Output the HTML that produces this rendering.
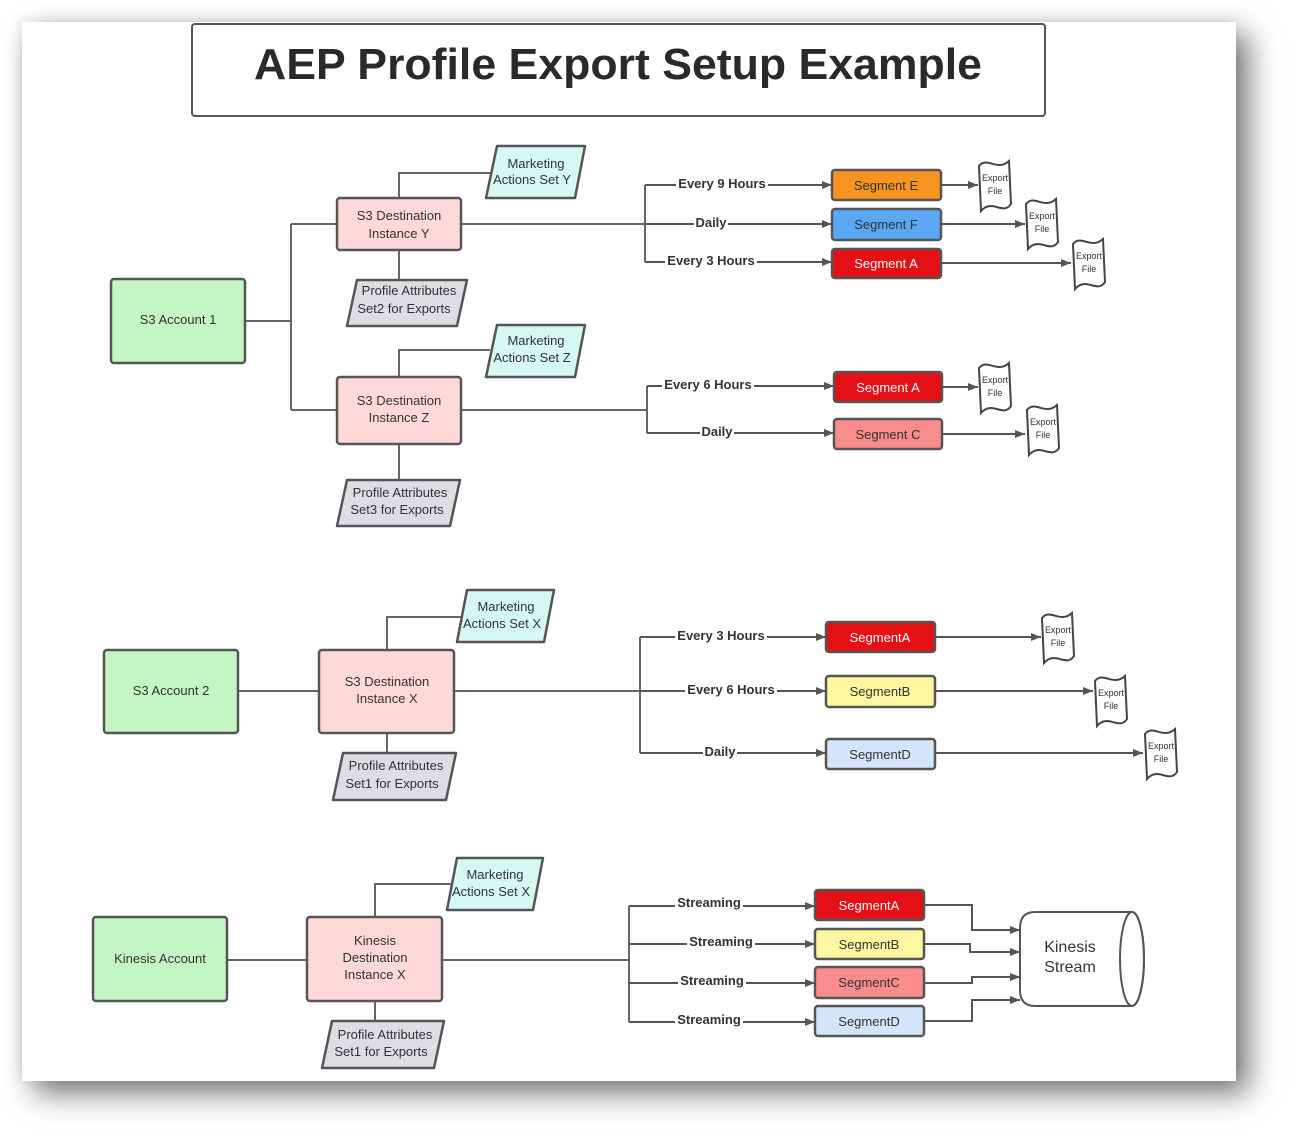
<!DOCTYPE html>
<html><head><meta charset="utf-8"><style>
html,body{margin:0;padding:0;background:#fff;}
body{width:1291px;height:1137px;position:relative;overflow:hidden;}
#card{position:absolute;left:22px;top:22px;width:1214px;height:1059px;background:#fff;box-shadow:12px 12px 28px rgba(0,0,0,0.55), -2px -2px 12px rgba(0,0,0,0.08);}
svg{position:absolute;left:0;top:0;}
text{font-family:"Liberation Sans",sans-serif;fill:#333;}
</style></head><body>
<div id="card"></div>
<svg width="1291" height="1137" viewBox="0 0 1291 1137">
<defs>
<marker id="ah" markerWidth="10" markerHeight="8" refX="10" refY="4" orient="auto" markerUnits="userSpaceOnUse">
<path d="M0,0 L10,4 L0,8 Z" fill="#555"/></marker>
<path id="doc" d="M1,6 C9,-4 19,12 31,1 L33,44 C25,56 14,38 3,51 Z" fill="#fff" stroke="#444" stroke-width="2"/>
</defs>
<g font-family="Liberation Sans">
<!-- Title -->
<rect x="192" y="24" width="853" height="92" rx="3" fill="#fff" stroke="#555" stroke-width="2"/>
<text x="618" y="79" text-anchor="middle" font-size="44" font-weight="bold" textLength="728" lengthAdjust="spacingAndGlyphs" style="fill:#2a2a2a">AEP Profile Export Setup Example</text>

<g fill="none" stroke="#666" stroke-width="2">
<!-- section 1 -->
<path d="M245,321 H291 M291,224 V410 M291,224 H337 M291,410 H337"/>
<path d="M399,198 V173 H490 M399,250 V280"/>
<path d="M399,377 V350 H490 M399,444 V480"/>
<path d="M461,224 H645 M645,185 V262"/>
<path d="M461,410 H647 M647,386 V433"/>
<!-- section 2 -->
<path d="M238,691 H319 M387,650 V617 H463 M387,733 V753"/>
<path d="M454,691 H640 M640,637 V753"/>
<!-- section 3 -->
<path d="M227,960 H307 M375,917 V884 H452 M375,1001 V1021"/>
<path d="M442,960 H629 M629,906 V1022"/>
</g>
<g fill="none" stroke="#555" stroke-width="2" marker-end="url(#ah)">
<path d="M645,185 H832"/><path d="M645,224 H832"/><path d="M645,262 H832"/>
<path d="M941,185 H978"/><path d="M941,224 H1025"/><path d="M941,263 H1071"/>
<path d="M647,386 H834"/><path d="M647,433 H834"/>
<path d="M942,387 H978"/><path d="M942,434 H1025"/>
<path d="M640,637 H826"/><path d="M640,691 H826"/><path d="M640,753 H826"/>
<path d="M935,637 H1041"/><path d="M935,691 H1093"/><path d="M935,753 H1143"/>
<path d="M629,906 H815"/><path d="M629,944 H815"/><path d="M629,983 H815"/><path d="M629,1022 H815"/>
<path d="M924,905 H972 V930 H1020"/><path d="M924,944 H970 V952 H1020"/>
<path d="M924,983 H972 V977 H1020"/><path d="M924,1021 H972 V1000 H1020"/>
</g>

<!-- connector labels -->
<g font-size="13" font-weight="bold" text-anchor="middle">
<rect x="676" y="177" width="92" height="14" fill="#fff"/><text x="722" y="188">Every 9 Hours</text>
<rect x="694" y="216" width="34" height="14" fill="#fff"/><text x="711" y="227">Daily</text>
<rect x="665" y="254" width="92" height="14" fill="#fff"/><text x="711" y="265">Every 3 Hours</text>
<rect x="662" y="378" width="92" height="14" fill="#fff"/><text x="708" y="389">Every 6 Hours</text>
<rect x="700" y="425" width="34" height="14" fill="#fff"/><text x="717" y="436">Daily</text>
<rect x="675" y="629" width="92" height="14" fill="#fff"/><text x="721" y="640">Every 3 Hours</text>
<rect x="685" y="683" width="92" height="14" fill="#fff"/><text x="731" y="694">Every 6 Hours</text>
<rect x="703" y="745" width="34" height="14" fill="#fff"/><text x="720" y="756">Daily</text>
<rect x="675" y="896" width="68" height="14" fill="#fff"/><text x="709" y="907">Streaming</text>
<rect x="687" y="935" width="68" height="14" fill="#fff"/><text x="721" y="946">Streaming</text>
<rect x="678" y="974" width="68" height="14" fill="#fff"/><text x="712" y="985">Streaming</text>
<rect x="675" y="1013" width="68" height="14" fill="#fff"/><text x="709" y="1024">Streaming</text>
</g>

<!-- accounts -->
<g stroke="#555" stroke-width="2.5">
<rect x="111" y="279" width="134" height="84" rx="3" fill="#c4f5c4"/>
<rect x="104" y="650" width="134" height="83" rx="3" fill="#c4f5c4"/>
<rect x="93" y="917" width="134" height="84" rx="3" fill="#c4f5c4"/>
<rect x="337" y="198" width="124" height="52" rx="3" fill="#ffd8d8"/>
<rect x="337" y="377" width="124" height="67" rx="3" fill="#ffd8d8"/>
<rect x="319" y="650" width="135" height="83" rx="3" fill="#ffd8d8"/>
<rect x="307" y="917" width="135" height="84" rx="3" fill="#ffd8d8"/>
<!-- parallelograms -->
<path d="M497,146 H585 L575,198 H486 Z" fill="#d6f8f3" stroke-linejoin="round"/>
<path d="M497,325 H585 L575,377 H486 Z" fill="#d6f8f3" stroke-linejoin="round"/>
<path d="M467,590 H554 L544,642 H457 Z" fill="#d6f8f3" stroke-linejoin="round"/>
<path d="M457,858 H543 L533,910 H447 Z" fill="#d6f8f3" stroke-linejoin="round"/>
<path d="M357,280 H467 L457,326 H347 Z" fill="#dcdee3" stroke-linejoin="round"/>
<path d="M347,480 H460 L450,526 H337 Z" fill="#dcdee3" stroke-linejoin="round"/>
<path d="M343,753 H456 L446,800 H333 Z" fill="#dcdee3" stroke-linejoin="round"/>
<path d="M332,1021 H444 L434,1068 H322 Z" fill="#dcdee3" stroke-linejoin="round"/>
<!-- segments -->
<rect x="832" y="170" width="109" height="30" rx="3" fill="#f7941f"/>
<rect x="832" y="209" width="109" height="31" rx="3" fill="#5aa8f5"/>
<rect x="832" y="249" width="109" height="29" rx="3" fill="#e51016"/>
<rect x="834" y="372" width="108" height="30" rx="3" fill="#e51016"/>
<rect x="834" y="419" width="108" height="30" rx="3" fill="#fa8c8c"/>
<rect x="826" y="622" width="109" height="30" rx="3" fill="#e51016"/>
<rect x="826" y="676" width="109" height="31" rx="3" fill="#fff6a0"/>
<rect x="826" y="739" width="109" height="30" rx="3" fill="#d2e5fa"/>
<rect x="815" y="890" width="109" height="30" rx="3" fill="#e51016"/>
<rect x="815" y="929" width="109" height="30" rx="3" fill="#fff6a0"/>
<rect x="815" y="967" width="109" height="31" rx="3" fill="#fa8c8c"/>
<rect x="815" y="1006" width="109" height="30" rx="3" fill="#d2e5fa"/>
</g>
<!-- cylinder -->
<path d="M1035,912 H1132 A12,47 0 0 1 1132,1006 H1035 Q1020,1006 1020,990 V928 Q1020,912 1035,912 Z" fill="#fff" stroke="#555" stroke-width="2"/>
<ellipse cx="1132" cy="959" rx="12" ry="47" fill="none" stroke="#555" stroke-width="2"/>
<text x="1070" y="952" font-size="16" text-anchor="middle">Kinesis</text>
<text x="1070" y="972" font-size="16" text-anchor="middle">Stream</text>

<!-- docs -->
<g>
<use href="#doc" x="978" y="160"/><use href="#doc" x="1025" y="198"/><use href="#doc" x="1072" y="238"/>
<use href="#doc" x="978" y="362"/><use href="#doc" x="1026" y="404"/>
<use href="#doc" x="1041" y="612"/><use href="#doc" x="1094" y="675"/><use href="#doc" x="1144" y="728"/>
</g>
<g font-size="9" text-anchor="middle">
<text x="995" y="181">Export</text><text x="995" y="194">File</text>
<text x="1042" y="219">Export</text><text x="1042" y="232">File</text>
<text x="1089" y="259">Export</text><text x="1089" y="272">File</text>
<text x="995" y="383">Export</text><text x="995" y="396">File</text>
<text x="1043" y="425">Export</text><text x="1043" y="438">File</text>
<text x="1058" y="633">Export</text><text x="1058" y="646">File</text>
<text x="1111" y="696">Export</text><text x="1111" y="709">File</text>
<text x="1161" y="749">Export</text><text x="1161" y="762">File</text>
</g>

<!-- node labels -->
<g font-size="13" text-anchor="middle">
<text x="178" y="324">S3 Account 1</text>
<text x="171" y="695">S3 Account 2</text>
<text x="160" y="963">Kinesis Account</text>
<text x="399" y="220">S3 Destination</text><text x="399" y="238">Instance Y</text>
<text x="399" y="405">S3 Destination</text><text x="399" y="422">Instance Z</text>
<text x="387" y="686">S3 Destination</text><text x="387" y="703">Instance X</text>
<text x="375" y="945">Kinesis</text><text x="375" y="962">Destination</text><text x="375" y="979">Instance X</text>
<text x="536" y="168">Marketing</text><text x="532" y="184">Actions Set Y</text>
<text x="536" y="345">Marketing</text><text x="532" y="362">Actions Set Z</text>
<text x="506" y="611">Marketing</text><text x="502" y="628">Actions Set X</text>
<text x="495" y="879">Marketing</text><text x="491" y="896">Actions Set X</text>
<text x="409" y="295">Profile Attributes</text><text x="404" y="313">Set2 for Exports</text>
<text x="400" y="497">Profile Attributes</text><text x="397" y="514">Set3 for Exports</text>
<text x="396" y="770">Profile Attributes</text><text x="392" y="788">Set1 for Exports</text>
<text x="385" y="1039">Profile Attributes</text><text x="381" y="1056">Set1 for Exports</text>
<text x="886" y="190" style="fill:#333">Segment E</text>
<text x="886" y="229">Segment F</text>
<text x="886" y="268" style="fill:#fff">Segment A</text>
<text x="888" y="392" style="fill:#fff">Segment A</text>
<text x="888" y="439">Segment C</text>
<text x="880" y="642" style="fill:#fff">SegmentA</text>
<text x="880" y="696">SegmentB</text>
<text x="880" y="759">SegmentD</text>
<text x="869" y="910" style="fill:#fff">SegmentA</text>
<text x="869" y="949">SegmentB</text>
<text x="869" y="987">SegmentC</text>
<text x="869" y="1026">SegmentD</text>
</g>
</g>
</svg>
</body></html>
